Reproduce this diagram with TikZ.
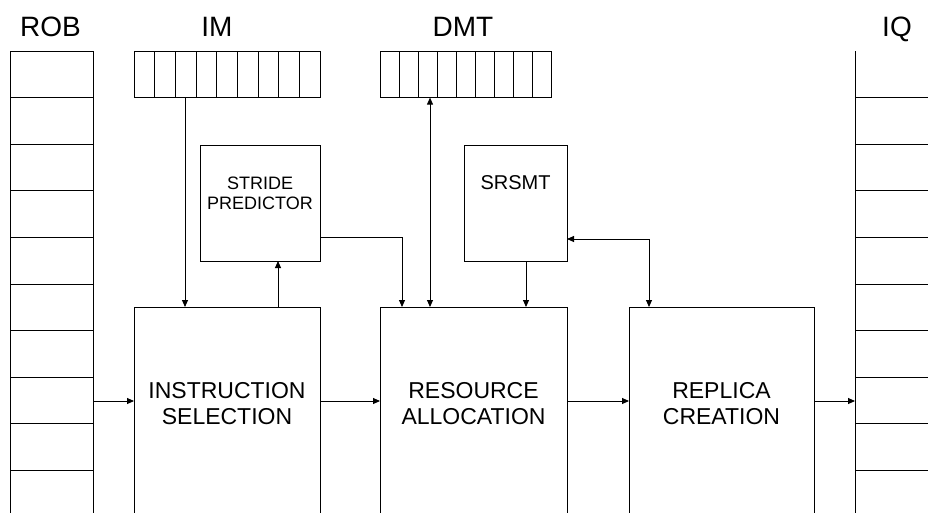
\documentclass[tikz,border=0pt]{standalone}
\usepackage{fontspec}
\setmainfont{Liberation Sans}
\usetikzlibrary{arrows.meta}
\begin{document}
\begin{tikzpicture}[x=1pt,y=-1pt,
  ln/.style={line width=0.9pt},
  blk/.style={draw, line width=0.9pt, rectangle, inner sep=0pt, outer sep=0pt, anchor=north west},
  arr/.style={line width=0.9pt, -{Triangle[length=7pt,width=6pt]}},
  darr/.style={line width=0.9pt, {Triangle[length=7pt,width=6pt]}-{Triangle[length=7pt,width=6pt]}},
  ttl/.style={font=\fontsize{28}{32}\selectfont, anchor=base, inner sep=0pt},
  lbl/.style={font=\fontsize{23}{26.7}\selectfont, align=center, inner sep=0pt},
  slbl/.style={font=\fontsize{18}{20}\selectfont, align=center, inner sep=0pt}]
\useasboundingbox (0,0) rectangle (928,512);
\clip (0,0) rectangle (928,512);

% helper coordinates
\coordinate (x185) at (185,0);
\coordinate (x278) at (278,0);
\coordinate (x402) at (402,0);
\coordinate (x430) at (430,0);
\coordinate (x526) at (526,0);
\coordinate (x649) at (649,0);
\coordinate (y237) at (0,237);
\coordinate (y239) at (0,239);
\coordinate (y401) at (0,401);

% titles
\node[ttl] (tROB) at (50.5,36.5) {ROB};
\node[ttl] (tIM)  at (217,36.5) {IM};
\node[ttl] (tDMT) at (463,36.5) {DMT};
\node[ttl] (tIQ)  at (897,36.5) {IQ};

% ROB queue
\node[blk, minimum width=83pt, minimum height=480pt] (rob) at (10,51) {};
\foreach \yy in {97.6,144.2,190.8,237.4,284,330.6,377.2,423.8,470.4}
  \draw[ln] (10,\yy) -- (93,\yy);

% IQ queue
\coordinate (iq) at (855,51);
\draw[ln] (iq) -- (855,530);
\foreach \yy in {97.6,144.2,190.8,237.4,284,330.6,377.2,423.8,470.4}
  \draw[ln] (855,\yy) -- (940,\yy);

% IM table
\node[blk, minimum width=186pt, minimum height=46.6pt] (im) at (134,51) {};
\foreach \i in {1,...,8}
  \draw[ln] ({134+20.667*\i},51) -- ({134+20.667*\i},97.6);

% DMT table
\node[blk, minimum width=171pt, minimum height=46.6pt] (dmt) at (380,51) {};
\foreach \i in {1,...,8}
  \draw[ln] ({380+19*\i},51) -- ({380+19*\i},97.6);

% small boxes
\node[blk, minimum width=120pt, minimum height=116pt] (sp) at (200,145) {};
\node[slbl] (spt) at (260,193) {STRIDE\\PREDICTOR};
\node[blk, minimum width=103pt, minimum height=116pt] (sm) at (464,145) {};
\node[font=\fontsize{20}{24}\selectfont, inner sep=0pt] (smt) at (515.5,183) {SRSMT};

% big boxes
\node[blk, minimum width=186pt, minimum height=230pt] (is) at (134,307) {};
\node[lbl] (ist) at (227,403.5) {INSTRUCTION\\SELECTION};
\node[blk, minimum width=187pt, minimum height=230pt] (ra) at (380,307) {};
\node[lbl] (rat) at (473.5,403.5) {RESOURCE\\ALLOCATION};
\node[blk, minimum width=185pt, minimum height=230pt] (rc) at (629,307) {};
\node[lbl] (rct) at (721.5,403.5) {REPLICA\\CREATION};

% connectors
\draw[arr] (im.south -| x185) -- (is.north -| x185);
\draw[arr] (is.north -| x278) -- (sp.south -| x278);
\draw[arr] (sp.east |- y237) -| (x402 |- ra.north);
\draw[darr] (dmt.south -| x430) -- (ra.north -| x430);
\draw[arr] (sm.south -| x526) -- (ra.north -| x526);
\draw[darr] (sm.east |- y239) -| (x649 |- rc.north);

\draw[arr] (rob.east |- y401) -- (is.west |- y401);
\draw[arr] (is.east |- y401) -- (ra.west |- y401);
\draw[arr] (ra.east |- y401) -- (rc.west |- y401);
\draw[arr] (rc.east |- y401) -- (iq |- y401);
\end{tikzpicture}
\end{document}
